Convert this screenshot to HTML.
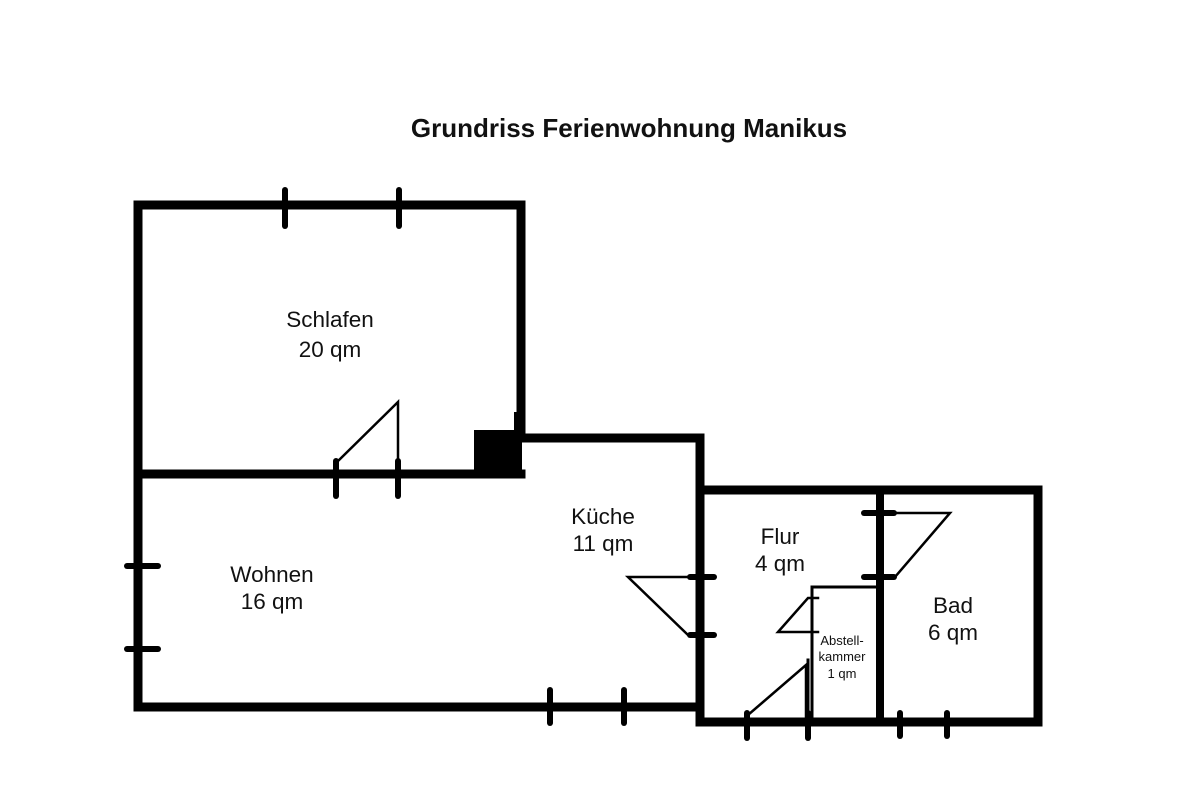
<!DOCTYPE html>
<html><head><style>
body{margin:0;background:#fff;}
svg text{font-family:"Liberation Sans",sans-serif;fill:#111;}
</style></head><body>
<svg width="1200" height="800" viewBox="0 0 1200 800" xmlns="http://www.w3.org/2000/svg">
<rect width="1200" height="800" fill="#fff"/>
<text x="629" y="137" font-size="26" font-weight="bold" text-anchor="middle">Grundriss Ferienwohnung Manikus</text>
<g stroke="#000" stroke-linecap="square" fill="none">
<g stroke-width="9">
<polyline points="138,707 138,205 521,205 521,438 700,438 700,722 1038,722 1038,490 700,490"/>
<line x1="138" y1="707" x2="697" y2="707"/>
<line x1="138" y1="474" x2="521" y2="474"/>
</g>
<line x1="880" y1="490" x2="880" y2="722" stroke-width="8"/>
<g stroke-width="6" stroke-linecap="round">
<line x1="285" y1="190" x2="285" y2="226"/><line x1="399" y1="190" x2="399" y2="226"/>
<line x1="336" y1="461" x2="336" y2="496"/><line x1="398" y1="461" x2="398" y2="496"/>
<line x1="127" y1="566" x2="158" y2="566"/><line x1="127" y1="649" x2="158" y2="649"/>
<line x1="550" y1="690" x2="550" y2="723"/><line x1="624" y1="690" x2="624" y2="723"/>
<line x1="690" y1="577" x2="714" y2="577"/><line x1="690" y1="635" x2="714" y2="635"/>
<line x1="747" y1="713" x2="747" y2="738"/><line x1="808" y1="713" x2="808" y2="738"/>
<line x1="900" y1="713" x2="900" y2="736"/><line x1="947" y1="713" x2="947" y2="736"/>
<line x1="864" y1="513" x2="894" y2="513"/><line x1="864" y1="577" x2="894" y2="577"/>
</g>
<polyline points="812,720 812,587 876,587" stroke-width="3"/>
<line x1="808" y1="660" x2="808" y2="720" stroke-width="3"/>
<g stroke-width="2.5">
<polyline points="336,463 398,402 398,463"/>
<polyline points="690,577 628,577 688,635"/>
<polyline points="880,513 950,513 895,577"/>
<polyline points="818,598 808,598 778,632 818,632"/>
<polyline points="748,715 806,665 806,718"/>
</g>
</g>
<rect x="474" y="430" width="48" height="48" fill="#000"/>
<line x1="517" y1="412" x2="517" y2="432" stroke="#000" stroke-width="6"/>
<g font-size="22.5" text-anchor="middle">
<text x="330" y="327">Schlafen</text><text x="330" y="357">20 qm</text>
<text x="272" y="582">Wohnen</text><text x="272" y="609">16 qm</text>
<text x="603" y="524">Küche</text><text x="603" y="551">11 qm</text>
<text x="780" y="544">Flur</text><text x="780" y="571">4 qm</text>
<text x="953" y="613">Bad</text><text x="953" y="640">6 qm</text>
</g>
<g font-size="13" text-anchor="middle">
<text x="842" y="645">Abstell-</text><text x="842" y="661">kammer</text><text x="842" y="678">1 qm</text>
</g>
</svg>
</body></html>
